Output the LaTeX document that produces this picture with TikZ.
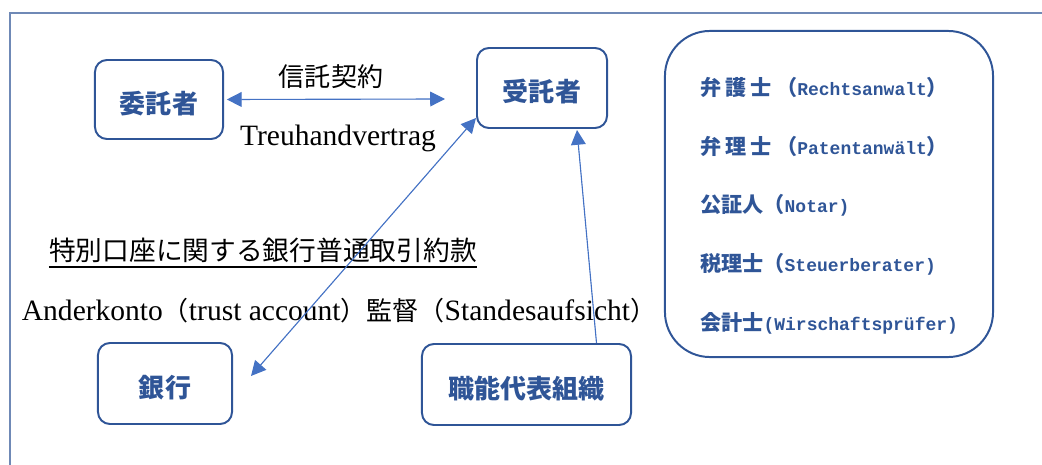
\documentclass[tikz,border=0pt]{standalone}
\usepackage{fontspec}
\setmainfont{Liberation Serif}
\newfontfamily\cjk{Noto Sans CJK JP}
\newfontfamily\mono{Liberation Mono}
\usetikzlibrary{arrows.meta, positioning, calc}

\definecolor{boxblue}{HTML}{2F5597}
\definecolor{arrowblue}{HTML}{4472C4}
\definecolor{framegray}{HTML}{6F89B6}

% CJK inside the monospace list
\newcommand{\jb}[1]{{\cjk\fontsize{15}{18}\selectfont #1}}

\begin{document}
\begin{tikzpicture}[x=0.025cm, y=-0.025cm,
    >={Triangle[length=10.5pt, width=10.5pt]},
    party/.style={draw=boxblue, line width=1.4pt, rounded corners=8.5pt, text=boxblue,
        font=\cjk\bfseries\fontsize{18.5}{22}\selectfont, inner sep=0pt,
        text height=22pt, text depth=2.2pt},
    link/.style={draw=arrowblue, line width=0.8pt, fill=arrowblue},
    label/.style={inner sep=0pt, font=\fontsize{21}{24}\selectfont},
    proftext/.style={anchor=west, inner sep=0pt, text=boxblue,
        font=\mono\bfseries\fontsize{12.8}{15}\selectfont}]
    \useasboundingbox (0,0) rectangle (1042,465);

    % Page frame (top and left edge)
    \draw[framegray, line width=1.4pt] (10,465) -- (10,13) -- (1042,13);

    % Parties
    \node[party, minimum width=3.2cm, minimum height=1.975cm] (principal) at (159,99.5) {委託者};
    \node[party, minimum width=3.25cm, minimum height=2cm] (trustee) at (542,88) {受託者};
    \node[party, minimum width=3.35cm, minimum height=2.025cm] (bank) at (165,383.5) {銀行};
    \node[party, minimum width=5.225cm, minimum height=2.025cm] (chamber) at (526.5,384.5) {職能代表組織};

    % Professions box
    \node[draw=boxblue, line width=1.4pt, rounded corners=32pt,
          minimum width=8.2cm, minimum height=8.15cm] (profs) at (829,194) {};
    \foreach \prof [count=\i] in {
        {\jb{弁\hspace{3pt}護\hspace{3pt}士\hspace{3pt}（}Rechtsanwalt\jb{）}},
        {\jb{弁\hspace{3pt}理\hspace{3pt}士\hspace{3pt}（}Patentanwält\jb{）}},
        {\jb{公証人（}Notar)},
        {\jb{税理士（}Steuerberater)},
        {\jb{会計士}(Wirschaftsprüfer)}}
        \node[proftext] (prof\i) at (700,{87+59*(\i-1)}) {\prof};

    % Labels
    \node[label, font=\cjk\fontsize{18.5}{22}\selectfont] (contract) at (331,76.5) {信託契約};
    \node[label, anchor=base] (treuhand) at (338,146) {Treuhandvertrag};
    \node[label, font=\cjk\fontsize{19}{23}\selectfont] (bankterms) at (263,250) {特別口座に関する銀行普通取引約款};
    \draw[line width=1.4pt] ($(bankterms.south west)+(0,4)$) -- ($(bankterms.south east)+(0,4)$);
    \node[label, anchor=base] (anderkonto) at (339,321)
        {Anderkonto{\cjk\fontsize{18.5}{22}\selectfont （}trust account{\cjk\fontsize{18.5}{22}\selectfont ）監督（}Standesaufsicht{\cjk\fontsize{18.5}{22}\selectfont ）}};

    % Connectors
    \coordinate (contractend) at (445,99);
    \coordinate (bankend) at (251,376);
    \draw[link, <->, shorten <=2pt] (principal.east) -- (contractend);
    \draw[link, <->] (bankend) -- ($(trustee.south west)+(0,-11)$);
    \draw[link, ->] ($(chamber.north)+(70,0)$) -- ($(trustee.south)+(35,1)$);
\end{tikzpicture}
\end{document}
